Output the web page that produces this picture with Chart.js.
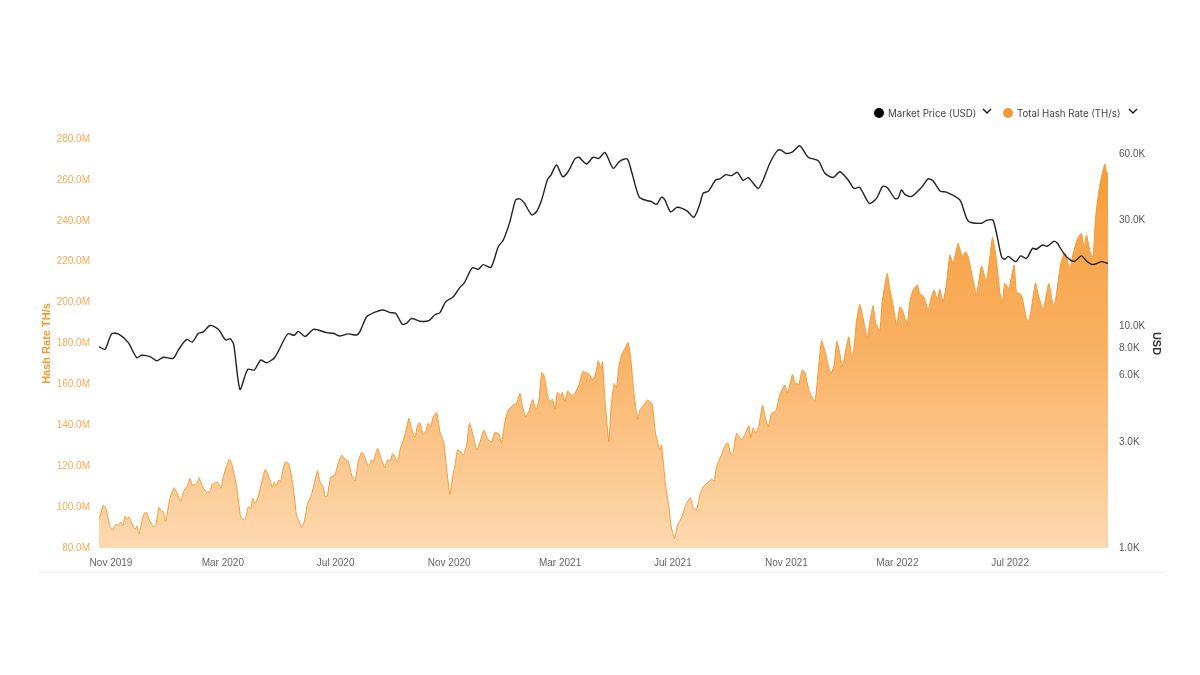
<!DOCTYPE html>
<html>
<head>
<meta charset="utf-8">
<script src="https://cdn.jsdelivr.net/npm/chart.js@4"></script>
<style>
  html, body { margin: 0; padding: 0; background: #fff; }
  #wrap { position: relative; width: 1200px; height: 675px; font-family: Inter, sans-serif; }
  .legend { position: absolute; top: 107px; font-size: 9.7px; color: #444; line-height: 13px; white-space: nowrap; }
  .dot { position: absolute; top: 1px; width: 10px; height: 10px; border-radius: 50%; }
  .chev { position: absolute; top: 1px; }
  #rule { position: absolute; left: 37px; top: 572px; width: 1128px; height: 1px; background: #f1f1f1; }
</style>
</head>
<body>
<div id="wrap">
  <canvas id="chart" width="1200" height="675"></canvas>
  <div class="legend" style="left:874px">
    <span class="dot" style="left:0;background:#000"></span>
    <span style="margin-left:14px">Market Price (USD)</span>
    <svg class="chev" style="left:108px" width="10" height="7"><path d="M1 1 L5 5 L9 1" fill="none" stroke="#111" stroke-width="1.3"/></svg>
  </div>
  <div class="legend" style="left:1003px">
    <span class="dot" style="left:0;background:#f39a35"></span>
    <span style="margin-left:14px">Total Hash Rate (TH/s)</span>
    <svg class="chev" style="left:125px" width="10" height="7"><path d="M1 1 L5 5 L9 1" fill="none" stroke="#111" stroke-width="1.3"/></svg>
  </div>
  <div id="rule"></div>
</div>
<script>
// x values are days since 19 Oct 2019
const tickDays = [13, 134, 256, 379, 499, 621, 744, 864, 986];
const tickLabels = ["Nov 2019", "Mar 2020", "Jul 2020", "Nov 2020", "Mar 2021", "Jul 2021", "Nov 2021", "Mar 2022", "Jul 2022"];
const priceTicks = [1000, 3000, 6000, 8000, 10000, 30000, 60000];

const priceDays = [
  0, 6.5, 13.7, 20.9, 31.7, 40.8, 46.2, 55.2, 62.4, 69.6,
  80.4, 85.8, 94.9, 101, 107.5, 112.9, 120.1, 129.1, 137, 141.8,
  145.7, 152.6, 160.9, 168.1, 174.9, 181.4, 190.4, 204.2, 211.4, 215.7,
  222.9, 231.9, 237.3, 246.4, 253.6, 260.8, 269.8, 278.8, 282.4, 289.7,
  298.7, 307.7, 314.9, 321, 328.2, 332.9, 338.3, 347.4, 357.1, 363.6,
  369, 375.1, 383.4, 390.6, 395.3, 404, 410.5, 415.9, 424.2, 432.1,
  437.5, 444.7, 450.9, 455.5, 460.2, 468.2, 473.6, 479, 485.5, 489.1,
  495.2, 501.7, 507.8, 515, 519.4, 527.7, 534.9, 541, 547.5, 556.5,
  563.7, 571.7, 576.4, 584.7, 592.6, 598, 603.4, 608.8, 612.4, 618.6,
  625.8, 635.9, 643.8, 650.3, 653.9, 659.3, 667.6, 672, 678.4, 684.6,
  690.7, 697.2, 702.6, 713.4, 718.8, 726, 734.4, 738.7, 743.4, 750.6,
  758.5, 767.5, 778.4, 785.6, 794.6, 801.8, 810.8, 817, 823.4, 833.6,
  841.5, 848, 853, 861.3, 864.9, 868.5, 872.1, 879.4, 890.2, 897.4,
  902.8, 910.7, 917.2, 931.7, 940.7, 955.1, 960.5, 967.7, 976.8, 980.3,
  984, 992.3, 997.3, 1003.8, 1010.3, 1014.6, 1021.1, 1026.2, 1033.4, 1037,
  1044.2, 1051.4, 1056.1, 1063.3, 1069.4, 1075.9, 1084.9, 1092
];
const priceValues = [
  8100, 7880, 9250, 9250, 8450, 7230, 7410, 7300, 7000, 7260,
  7180, 7820, 8740, 8500, 9300, 9440, 10100, 9700, 8680, 8800,
  8320, 5200, 6400, 6360, 7050, 6860, 7260, 9250, 9120, 9500,
  9000, 9700, 9630, 9370, 9310, 9050, 9250, 9150, 9480, 11050,
  11600, 11860, 11540, 11470, 10230, 10340, 10850, 10550, 10620, 11290,
  11540, 12900, 13600, 15000, 15700, 18400, 18100, 19000, 18450, 22900,
  24500, 29700, 37200, 37600, 36100, 31900, 33000, 37200, 46100, 48200,
  53500, 47400, 50000, 57000, 58000, 54100, 58000, 57300, 61000, 51700,
  55700, 57000, 49900, 38300, 37000, 36600, 35500, 38300, 37200, 32900,
  34500, 33300, 31100, 35700, 39900, 40700, 45900, 46300, 48400, 47900,
  49600, 45600, 46900, 42000, 45800, 54500, 62300, 62300, 60300, 61300,
  65300, 58000, 55900, 49100, 47000, 49900, 45800, 42000, 42400, 35900,
  37800, 42800, 42400, 37800, 37900, 41300, 39400, 38600, 42400, 46300,
  45300, 40700, 40400, 37200, 29900, 29200, 30100, 30100, 20600, 20100,
  20700, 19600, 20800, 20300, 22500, 22300, 23300, 23000, 24200, 23800,
  21300, 19900, 19700, 20800, 19600, 19000, 19600, 19200
];

const hashDays = [
  0, 4.7, 7.6, 11.9, 14.8, 17.3, 20.9, 23.8, 25.6, 28.1,
  30.3, 32.5, 35.3, 39, 41.1, 43.3, 47.3, 49.1, 51.6, 54.5,
  58.8, 61.3, 64.9, 67.8, 69.6, 72.1, 76.8, 81.2, 84, 88.4,
  91.3, 96, 98.5, 101, 105.7, 108.2, 112.9, 116.5, 120.1, 122.6,
  126.2, 128.4, 132, 134.5, 138.1, 141, 144, 149, 153.3, 156.2,
  158.7, 161.6, 164.5, 166.3, 168.8, 172.4, 174.9, 180, 185, 187.5,
  189.7, 191.5, 194.7, 196.6, 199.4, 202, 205.6, 210.3, 213.9, 215.7,
  219.3, 222.2, 225.8, 229.4, 233, 236.6, 239.1, 242.7, 244.5, 247,
  250.7, 255.3, 258.9, 262.6, 265.4, 269.8, 273.4, 277, 280.6, 284.2,
  286.7, 291.4, 295, 296.8, 301.5, 305.8, 309.4, 312, 316, 317.4,
  319.5, 323.2, 325.7, 329.3, 331.8, 335.4, 338.3, 341.9, 344.8, 347.3,
  350.9, 353.8, 356.3, 358.9, 361.7, 365.4, 369, 373.3, 376.2, 379.8,
  382.4, 385.2, 388.1, 391.7, 394.3, 397.9, 400.8, 404, 408.7, 412.3,
  416.6, 420.6, 424.9, 428.5, 432.9, 435.7, 439.3, 443, 448.4, 451.9,
  455.6, 458.1, 461.7, 465.7, 469.3, 472.9, 476.1, 479, 481.5, 485.5,
  488.4, 490.6, 493.5, 496, 500, 501.4, 504.3, 507.2, 511.5, 515.1,
  519.4, 523.4, 526.6, 530.6, 534.2, 537.8, 540.3, 542.9, 545, 547.5,
  551.8, 554, 557.6, 560.1, 562.6, 565.5, 569.1, 572.7, 575.6, 579.2,
  582.8, 585.4, 589, 593.7, 598.7, 602.3, 607, 608.8, 613.1, 617.1,
  618.9, 622.9, 626.1, 630.5, 634.8, 639.8, 643.1, 646.7, 650.3, 653.9,
  659.3, 662.9, 665.8, 668.3, 673.7, 678.1, 681, 683.8, 686.4, 690,
  695.4, 699, 703.3, 705.5, 708, 710.5, 714.1, 718.1, 720.6, 724.2,
  727.9, 732.5, 736.8, 742.2, 745.1, 750.5, 753, 757.4, 761, 763.9,
  768.2, 774.7, 778.3, 781.9, 786.2, 789.1, 792, 795.6, 798.5, 801.7,
  804.6, 807.9, 811.5, 814.4, 816.5, 819.8, 823.4, 827, 831.7, 834.2,
  837.8, 840.7, 845, 847.6, 853, 855.8, 859.4, 863.1, 866.7, 869.5,
  874.6, 877.5, 881, 885.8, 888.3, 892.6, 897.3, 900.9, 903.8, 907.4,
  909.9, 913.6, 917.2, 920.8, 924.4, 929.8, 934.2, 937.8, 940.7, 946,
  949.7, 955.1, 960.5, 967, 971.3, 974.9, 977.4, 980.3, 984.7, 990.4,
  992.9, 998.4, 1004.9, 1008.5, 1013.5, 1017.1, 1021.8, 1027.9, 1032.6, 1035.2,
  1040.9, 1045.3, 1050.7, 1054.3, 1059, 1063.3, 1066.2, 1068.7, 1073, 1075.9,
  1078.4, 1083.1, 1088.5, 1090.7, 1092
];
const hashValues = [
  94, 101, 99.2, 90.4, 88.8, 91.1, 91.4, 92.7, 90.8, 95.6,
  94, 95.3, 92.4, 89.1, 90.8, 86.8, 94.8, 97, 97.4, 93.7,
  90.4, 90.8, 99.9, 97.8, 97.8, 93.2, 104.3, 109.5, 107.5, 102.7,
  107.5, 110.8, 114.1, 110.8, 111.6, 114.4, 109.2, 107.5, 107.5, 111.1,
  111.9, 112.3, 109.2, 114.9, 120.1, 123.4, 120.6, 110, 95, 94,
  94.7, 100.2, 99.4, 104.3, 101.8, 105.1, 110, 118.5, 113.3, 109.7,
  112.4, 110.3, 113.3, 112.4, 119, 122.1, 121.1, 109.2, 95.3, 94,
  90.1, 92.9, 101.8, 105.1, 111.6, 117.8, 112.4, 109.7, 105.4, 105.4,
  114.6, 115.7, 121.4, 125.5, 123.8, 122.5, 115.7, 112.9, 122.2, 126.8,
  125.5, 119.8, 123, 122.1, 128.7, 123, 119.3, 123, 123, 126,
  125.5, 121.9, 127.9, 132.8, 136.6, 143.4, 138.5, 134.1, 140.1, 141.3,
  135.7, 137.2, 141, 139.3, 144.2, 146.3, 136.9, 131.2, 119, 106.2,
  114.1, 120.3, 127.9, 127.1, 125.2, 130.4, 141, 136.9, 127.9, 131.7,
  137.7, 133.3, 132, 136.6, 135.6, 131.2, 141.8, 147.5, 149.9, 150.7,
  155.6, 149.9, 144.2, 147.5, 152.7, 147.5, 152.4, 165.7, 164.6, 154.8,
  150.7, 152.9, 148, 156.1, 154.5, 156.1, 151.6, 156.8, 154.8, 155.6,
  159.7, 166.2, 165.9, 164.9, 162.2, 165.9, 171.6, 167.9, 171.1, 153.2,
  132, 148.3, 160.5, 158.4, 168.7, 174.4, 177.6, 180.6, 171.9, 154.8,
  143.1, 147.5, 149.6, 152.4, 150.3, 136.1, 127.9, 130.4, 110.8, 99.4,
  91.2, 84.7, 91.2, 94.8, 100.7, 104.6, 99.7, 98.6, 105.9, 110,
  112.1, 113.7, 112.8, 119.8, 125.5, 130.7, 131.2, 125.5, 127.1, 136.1,
  132.8, 135.6, 139.8, 134, 138.8, 136.1, 139.8, 149.9, 145, 139.3,
  145.9, 147, 154.8, 159.7, 155.6, 164.9, 161.3, 160, 167, 165.9,
  157.3, 151.6, 166.2, 181.4, 175.7, 169.5, 165.4, 169.5, 181.2, 175.2,
  168.7, 176.3, 183.3, 174.4, 175.2, 190.7, 199.2, 192.3, 182.5, 190.7,
  198.5, 189.9, 186.1, 200.5, 214.3, 207, 198.8, 189, 198, 196.4,
  189.4, 200.5, 206.2, 208.6, 204.5, 202.9, 196.4, 202.9, 206.2, 201.3,
  206.6, 200.5, 209.4, 223.3, 219.2, 229, 222.5, 224.9, 222.5, 211,
  203.7, 217.9, 210.2, 231.9, 220.8, 205.3, 199.6, 209.4, 207, 218.4,
  205.3, 203.7, 189.9, 195.6, 209.7, 202.9, 196.4, 209.4, 198.8, 201.3,
  219.2, 224.4, 216.8, 224.1, 231.4, 233.9, 226.5, 233.1, 224.1, 222.5,
  241.2, 257.5, 267.8, 263.2, 263.9
];

function hashFill(context) {
  const area = context.chart.chartArea;
  if (!area) return "#f8ac56";
  const g = context.chart.ctx.createLinearGradient(0, area.top, 0, area.bottom);
  g.addColorStop(0, "#f79a33");
  g.addColorStop(0.5, "#f9b061");
  g.addColorStop(1, "#fdd9b0");
  return g;
}

const fontTick = { family: "'Liberation Sans', sans-serif", size: 10 };

new Chart(document.getElementById("chart"), {
  type: "line",
  data: {
    datasets: [
      {
        label: "Market Price (USD)",
        data: priceDays.map((d, i) => ({ x: d, y: priceValues[i] })),
        yAxisID: "yPrice",
        borderColor: "#222",
        borderWidth: 1.4,
        pointRadius: 0,
        tension: 0.25,
        order: 1
      },
      {
        label: "Total Hash Rate (TH/s)",
        data: hashDays.map((d, i) => ({ x: d, y: hashValues[i] })),
        yAxisID: "yHash",
        borderColor: "#f39a35",
        borderWidth: 1,
        backgroundColor: hashFill,
        fill: "start",
        pointRadius: 0,
        tension: 0.15,
        order: 2
      }
    ]
  },
  options: {
    responsive: false,
    animation: false,
    layout: { padding: { left: 37, right: 37, top: 139, bottom: 100 } },
    plugins: { legend: { display: false }, tooltip: { enabled: false } },
    scales: {
      x: {
        type: "linear",
        min: 0,
        max: 1092,
        grid: { display: false },
        border: { display: false },
        afterBuildTicks: (s) => { s.ticks = tickDays.map((v) => ({ value: v })); },
        afterFit: (s) => { s.height = 27; },
        ticks: {
          autoSkip: false,
          maxRotation: 0,
          padding: 1,
          color: "#666",
          font: fontTick,
          callback: (v, i) => tickLabels[i]
        }
      },
      yHash: {
        position: "left",
        min: 80,
        max: 280,
        grid: { display: false },
        border: { display: false },
        afterFit: (s) => { s.width = 62; },
        title: {
          display: true,
          text: "Hash Rate TH/s",
          color: "#f39a35",
          font: { family: "'Liberation Sans', sans-serif", size: 11, weight: "bold" },
          padding: { top: 3, bottom: 0 }
        },
        ticks: {
          stepSize: 20,
          padding: 1,
          color: "#f7ab55",
          font: fontTick,
          callback: (v) => v.toFixed(1) + "M"
        }
      },
      yPrice: {
        type: "logarithmic",
        position: "right",
        min: 1000,
        max: 70100,
        grid: { display: false },
        border: { display: false },
        afterBuildTicks: (s) => { s.ticks = priceTicks.map((v) => ({ value: v })); },
        afterFit: (s) => { s.width = 55; },
        title: {
          display: true,
          text: "USD",
          color: "#333",
          font: { family: "'Liberation Sans', sans-serif", size: 11, weight: "bold" },
          padding: 0
        },
        ticks: {
          autoSkip: false,
          padding: 3,
          color: "#555",
          font: fontTick,
          callback: (v) => (v / 1000).toFixed(1) + "K"
        }
      }
    }
  }
});
</script>
</body>
</html>
